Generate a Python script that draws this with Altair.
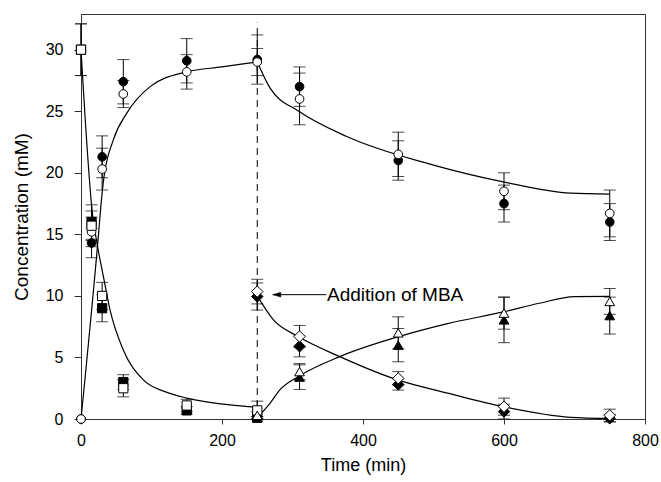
import altair as alt
import pandas as pd

# ---------------- data ----------------
T_CIRC = [0, 15, 30, 60, 150, 250, 310, 450, 600, 750]
OPEN_CIRC = [0, 15.2, 20.3, 26.4, 28.2, 29.0, 26.0, 21.5, 18.5, 16.7]
OPEN_CIRC_ERR = [0, 1.2, 1.7, 1.1, 1.4, 1.1, 2.1, 1.8, 1.5, 1.9]
FILL_CIRC = [0, 14.3, 21.3, 27.4, 29.1, 29.2, 27.0, 21.0, 17.5, 16.0]
FILL_CIRC_ERR = [0, 1.2, 1.7, 1.8, 1.8, 2.0, 1.6, 1.6, 1.5, 1.5]

T_SQ = [0, 15, 30, 60, 150, 250]
OPEN_SQ = [30, 15.7, 10.0, 2.5, 1.1, 0.7]
OPEN_SQ_ERR = [2.1, 1.2, 1.1, 0.7, 0.5, 0.75]
FILL_SQ = [30, 16.0, 9.0, 3.0, 0.7, 0.1]
FILL_SQ_ERR = [2.1, 1.4, 1.1, 0.6, 0.3, 0.1]

T_DIA = [250, 310, 450, 600, 750]
OPEN_DIA = [10.35, 6.7, 3.3, 1.0, 0.3]
OPEN_DIA_ERR = [1.0, 0.9, 0.55, 0.7, 0.5]
FILL_DIA = [9.95, 5.9, 2.8, 0.6, 0.05]
FILL_DIA_ERR = [1.1, 0.85, 0.45, 0.6, 0.3]

T_TRI = [250, 310, 450, 600, 750]
OPEN_TRI = [0.3, 3.85, 7.0, 8.6, 9.55]
OPEN_TRI_ERR = [0.3, 0.65, 1.3, 1.3, 1.05]
FILL_TRI = [0.1, 3.4, 6.0, 8.05, 8.4]
FILL_TRI_ERR = [0.1, 1.0, 1.35, 1.85, 1.5]

# fitted curves
CURVE_C1_T = [0, 25, 29, 32, 46, 65, 98, 150, 200, 250]
CURVE_C1_V = [0, 15.1, 17.8, 19.4, 22.7, 24.85, 27.0, 28.2, 28.6, 29.0]
CURVE_C2_T = [250, 268, 309, 377, 495, 604, 694, 750]
CURVE_C2_V = [29.0, 26.9, 25.0, 22.95, 20.7, 19.2, 18.35, 18.27]
CURVE_S_T = [0, 17, 22, 32, 41, 60, 88, 120, 150, 211, 250]
CURVE_S_V = [30, 16.3, 14.5, 11.5, 8.9, 5.6, 3.2, 2.2, 1.7, 1.14, 0.95]
CURVE_D_T = [250, 273, 308, 367, 448, 520, 599, 694, 750]
CURVE_D_V = [10.0, 8.05, 6.7, 5.07, 3.2, 2.1, 1.0, 0.14, 0.05]
CURVE_T_T = [250, 268, 282, 308, 367, 448, 520, 599, 650, 700, 750]
CURVE_T_V = [0.1, 1.27, 2.36, 3.44, 5.07, 6.65, 7.75, 8.7, 9.4, 9.94, 9.96]

X_TICKS = [0, 200, 400, 600, 800]
Y_TICKS = [0, 5, 10, 15, 20, 25, 30]
X_DOMAIN = [0, 800]
Y_DOMAIN = [0, 32.9]

ADD_T = [250]
ADD_TOP = [32.2]
ARROW_T = [272]
ARROW_END = [348]
ARROW_Y = [10.1]
LABEL_T = [349]
LABEL_TEXT = ["Addition of MBA"]

FONT = "Liberation Sans"

# ---------------- helpers ----------------
xscale = alt.Scale(domain=X_DOMAIN, nice=False, zero=False)
yscale = alt.Scale(domain=Y_DOMAIN, nice=False, zero=False)
xaxis = alt.Axis(values=X_TICKS, title="Time (min)", tickSize=5, labelPadding=8,
                 titlePadding=8, grid=False, labelFlush=False)
yaxis = alt.Axis(values=Y_TICKS, title="Concentration (mM)", tickSize=7, labelPadding=11,
                 titlePadding=14, grid=False, labelFlush=False, titleFontSize=19)


def X(field):
    return alt.X(field, type="quantitative", scale=xscale, axis=xaxis)


def Y(field):
    return alt.Y(field, type="quantitative", scale=yscale, axis=yaxis)


def curve(ts, vs):
    df = pd.DataFrame({"t": ts, "v": vs})
    return alt.Chart(df).mark_line(color="black", strokeWidth=1.2, interpolate="monotone").encode(
        x=X("t"), y=Y("v"))


def series_df(ts, vs, es):
    return pd.DataFrame({"t": ts, "v": vs,
                         "lo": [v - e for v, e in zip(vs, es)],
                         "hi": [v + e for v, e in zip(vs, es)]})


all_series = [
    (T_CIRC, FILL_CIRC, FILL_CIRC_ERR, "circle", True, 75),
    (T_SQ, FILL_SQ, FILL_SQ_ERR, "square", True, 85),
    (T_DIA, FILL_DIA, FILL_DIA_ERR, "diamond", True, 130),
    (T_TRI, FILL_TRI, FILL_TRI_ERR, "triangle-up", True, 95),
    (T_CIRC, OPEN_CIRC, OPEN_CIRC_ERR, "circle", False, 75),
    (T_SQ, OPEN_SQ, OPEN_SQ_ERR, "square", False, 85),
    (T_DIA, OPEN_DIA, OPEN_DIA_ERR, "diamond", False, 130),
    (T_TRI, OPEN_TRI, OPEN_TRI_ERR, "triangle-up", False, 95),
]

layers = []
# curves
for ts, vs in [(CURVE_C1_T, CURVE_C1_V), (CURVE_C2_T, CURVE_C2_V), (CURVE_S_T, CURVE_S_V),
               (CURVE_D_T, CURVE_D_V), (CURVE_T_T, CURVE_T_V)]:
    layers.append(curve(ts, vs))

# dashed vertical line at MBA addition
dash_df = pd.DataFrame({"t": ADD_T, "lo": [0], "hi": ADD_TOP})
layers.append(alt.Chart(dash_df).mark_rule(color="black", strokeWidth=1, strokeDash=[7, 5]).encode(
    x=X("t"), y=Y("lo"), y2="hi"))

# error bars
err_frames = [series_df(ts, vs, es) for ts, vs, es, *_ in all_series]
err_df = pd.concat(err_frames, ignore_index=True)
err_df = err_df[err_df["hi"] > err_df["lo"]]
layers.append(alt.Chart(err_df).mark_rule(color="black", strokeWidth=1).encode(
    x=X("t"), y=Y("lo"), y2="hi"))
layers.append(alt.Chart(err_df).mark_tick(color="black", orient="horizontal", size=12, thickness=1).encode(
    x=X("t"), y=Y("lo")))
layers.append(alt.Chart(err_df).mark_tick(color="black", orient="horizontal", size=12, thickness=1).encode(
    x=X("t"), y=Y("hi")))

# markers
for ts, vs, es, shape, filled, size in all_series:
    df = series_df(ts, vs, es)
    layers.append(alt.Chart(df).mark_point(
        shape=shape, size=size, filled=True, fill="black" if filled else "white",
        stroke="black", strokeWidth=1, opacity=1).encode(x=X("t"), y=Y("v")))

# arrow + annotation
arrow_df = pd.DataFrame({"t": ARROW_T, "t2": ARROW_END, "v": ARROW_Y})
layers.append(alt.Chart(arrow_df).mark_rule(color="black", strokeWidth=1).encode(
    x=X("t"), x2="t2", y=Y("v")))
layers.append(alt.Chart(arrow_df).mark_point(
    shape="M-1,0L1,-0.6L1,0.6Z", size=64, filled=True, fill="black", stroke="black",
    strokeWidth=0.5, opacity=1, xOffset=4).encode(x=X("t"), y=Y("v")))
label_df = pd.DataFrame({"t": LABEL_T, "v": ARROW_Y, "txt": LABEL_TEXT})
layers.append(alt.Chart(label_df).mark_text(
    align="left", baseline="middle", font=FONT, fontSize=19, color="black").encode(
    x=X("t"), y=Y("v"), text="txt:N"))

chart = alt.layer(*layers).properties(
    width=564, height=405,
    autosize=alt.AutoSizeParams(type="none"),
    padding={"left": 81, "top": 14, "right": 16, "bottom": 63},
    background="white",
).configure_view(stroke="#333", strokeWidth=1).configure_axis(
    labelFont=FONT, titleFont=FONT, labelFontSize=16, titleFontSize=18,
    titleFontWeight="normal", labelColor="black", titleColor="black",
    domainColor="#333", tickColor="#333", domainWidth=1, tickWidth=1,
)

chart.save("out.html", embed_options={"renderer": "svg", "actions": False})
